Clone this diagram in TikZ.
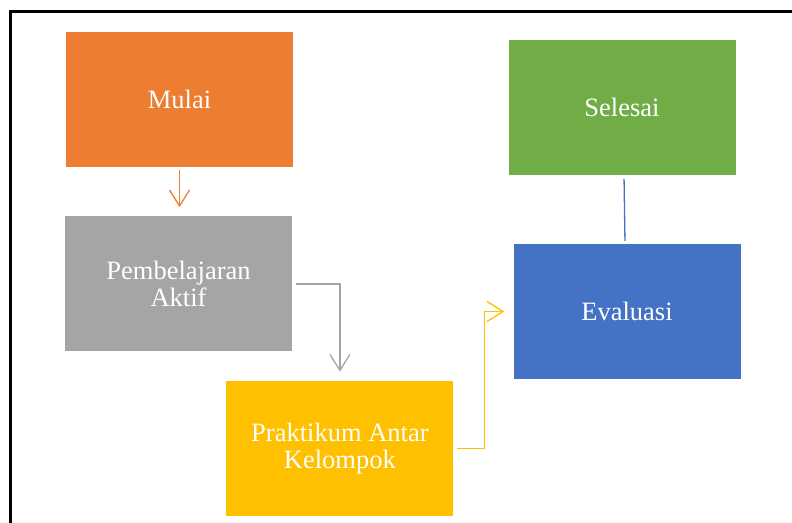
\documentclass[tikz,border=0pt]{standalone}
\usepackage{fontspec}
\setmainfont{Liberation Serif}
\usetikzlibrary{arrows.meta,positioning}

\definecolor{cOrange}{HTML}{ED7D31}
\definecolor{cGray}{HTML}{A5A5A5}
\definecolor{cGold}{HTML}{FFC000}
\definecolor{cBlue}{HTML}{4472C4}
\definecolor{cGreen}{HTML}{70AD47}

\begin{document}
\begin{tikzpicture}[
  x=1pt, y=-1pt,
  font=\fontsize{26.5}{27}\selectfont,
  box/.style={inner sep=0pt, align=center, text=white, minimum width=227pt, minimum height=135pt},
  arrow/.style={-{Straight Barb[length=16pt,width=20pt]}, line width=1.3pt}
]
  \useasboundingbox (0,0) rectangle (792,522);
  \draw[line width=3pt] (10,530) -- (10,11) -- (800,11);

  \node[box, fill=cOrange] (mulai) at (179.5,99.5) {Mulai};
  \node[box, fill=cGray, below=49pt of mulai, xshift=-1pt] (aktif) {Pembelajaran\\Aktif};
  \node[box, fill=cGold, below right=29pt and -66pt of aktif] (praktikum) {Praktikum Antar\\Kelompok};
  \node[box, fill=cBlue] (evaluasi) at (627,311.5) {Evaluasi};
  \node[box, fill=cGreen, above=69pt of evaluasi, xshift=-5pt] (selesai) {Selesai};

  \draw[arrow, cOrange, shorten <=3pt, shorten >=9pt] (mulai) -- (aktif.north -| mulai.south);
  \draw[arrow, cGray, shorten <=4pt, shorten >=9pt] (aktif.east) -| (praktikum.north);
  \draw[arrow, cGold, shorten <=3pt, shorten >=9pt] (praktikum.east) -- ++(31,0) |- (evaluasi.west);
  \draw[cBlue, line width=1.3pt, shorten <=4pt, shorten >=3pt] ([xshift=2pt]selesai.south) -- ([xshift=-2pt]evaluasi.north);
\end{tikzpicture}
\end{document}
